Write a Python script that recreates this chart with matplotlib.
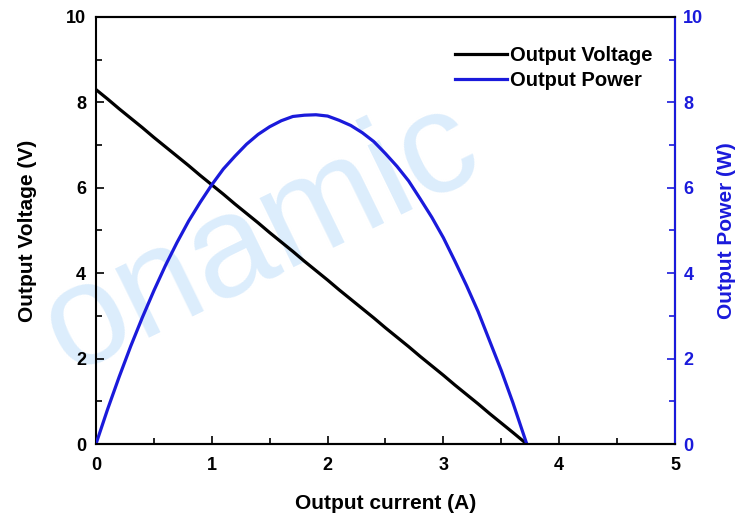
import matplotlib
matplotlib.use("Agg")
import matplotlib.pyplot as plt
from matplotlib.ticker import MultipleLocator

plt.rcParams['font.family'] = ['Liberation Sans', 'DejaVu Sans']
plt.rcParams['font.weight'] = 'bold'

current = [0.0, 0.1, 0.2, 0.3, 0.4, 0.5, 0.6, 0.7, 0.8, 0.9, 1.0, 1.1, 1.2, 1.3,
           1.4, 1.5, 1.6, 1.7, 1.8, 1.9, 2.0, 2.1, 2.2, 2.3, 2.4, 2.5, 2.6, 2.7,
           2.8, 2.9, 3.0, 3.1, 3.2, 3.3, 3.4, 3.5, 3.6, 3.72]
voltage = [8.30, 8.08, 7.85, 7.63, 7.41, 7.18, 6.96, 6.74, 6.52, 6.29, 6.07, 5.85,
           5.62, 5.40, 5.18, 4.95, 4.73, 4.51, 4.28, 4.06, 3.84, 3.61, 3.39, 3.17,
           2.95, 2.72, 2.50, 2.28, 2.05, 1.83, 1.61, 1.38, 1.16, 0.94, 0.71, 0.49,
           0.27, 0.00]
power = [0.00, 0.81, 1.57, 2.29, 2.96, 3.59, 4.18, 4.72, 5.22, 5.66, 6.07, 6.44,
         6.74, 7.02, 7.25, 7.43, 7.57, 7.67, 7.70, 7.71, 7.68, 7.58, 7.46, 7.29,
         7.08, 6.80, 6.50, 6.16, 5.74, 5.31, 4.83, 4.28, 3.71, 3.10, 2.41, 1.72,
         0.97, 0.00]

blue = '#1a1adb'

fig = plt.figure(figsize=(7.48, 5.13), dpi=100)
ax = fig.add_axes([0.1283, 0.1345, 0.9024 - 0.1283, 0.9669 - 0.1345])
ax2 = ax.twinx()

# watermark (drawn behind everything)
fig.text(0.35, 0.535, 'onamic', fontsize=104, color='#dcedfc', fontweight='normal',
         rotation=26, ha='center', va='center', zorder=-5)

l1, = ax.plot(current, voltage, color='black', lw=2.3, label='Output Voltage')
l2, = ax2.plot(current, power, color=blue, lw=2.3, label='Output Power')

ax.set_xlim(0, 5)
ax.set_ylim(0, 10)
ax2.set_ylim(0, 10)
ax.xaxis.set_major_locator(MultipleLocator(1))
ax.xaxis.set_minor_locator(MultipleLocator(0.5))
ax.yaxis.set_major_locator(MultipleLocator(2))
ax.yaxis.set_minor_locator(MultipleLocator(1))
ax2.yaxis.set_major_locator(MultipleLocator(2))
ax2.yaxis.set_minor_locator(MultipleLocator(1))

for a in (ax, ax2):
    a.patch.set_visible(False)
    for s in a.spines.values():
        s.set_linewidth(1.5)

ax.tick_params(axis='both', which='both', direction='in', labelsize=13, width=1.2,
               top=False, right=False)
ax.tick_params(which='major', length=6)
ax.tick_params(which='minor', length=4)
ax.tick_params(axis='x', which='both', pad=9.5)
ax.tick_params(axis='y', which='both', pad=7)
ax2.tick_params(axis='y', which='both', direction='in', labelsize=13, width=1.2,
                colors=blue, pad=6)
ax2.tick_params(which='major', length=6)
ax2.tick_params(which='minor', length=4)
ax2.spines['right'].set_color(blue)
ax2.spines['left'].set_visible(False)

for lab in ax.get_xticklabels() + ax.get_yticklabels() + ax2.get_yticklabels():
    lab.set_fontweight('bold')

ax.set_xlabel('Output current (A)', fontsize=15, fontweight='bold', labelpad=14)
ax.set_ylabel('Output Voltage (V)', fontsize=15, fontweight='bold', labelpad=21)
ax2.set_ylabel('Output Power (W)', fontsize=15, fontweight='bold', color=blue,
               labelpad=10)

leg = ax.legend(handles=[l1, l2], loc='upper right', frameon=False,
                prop={'weight': 'bold', 'size': 14.5}, borderpad=0, borderaxespad=0,
                handlelength=2.6, handletextpad=0.15, labelspacing=0.3,
                bbox_to_anchor=(0.962, 0.933))

fig.savefig('out.png', dpi=100)
